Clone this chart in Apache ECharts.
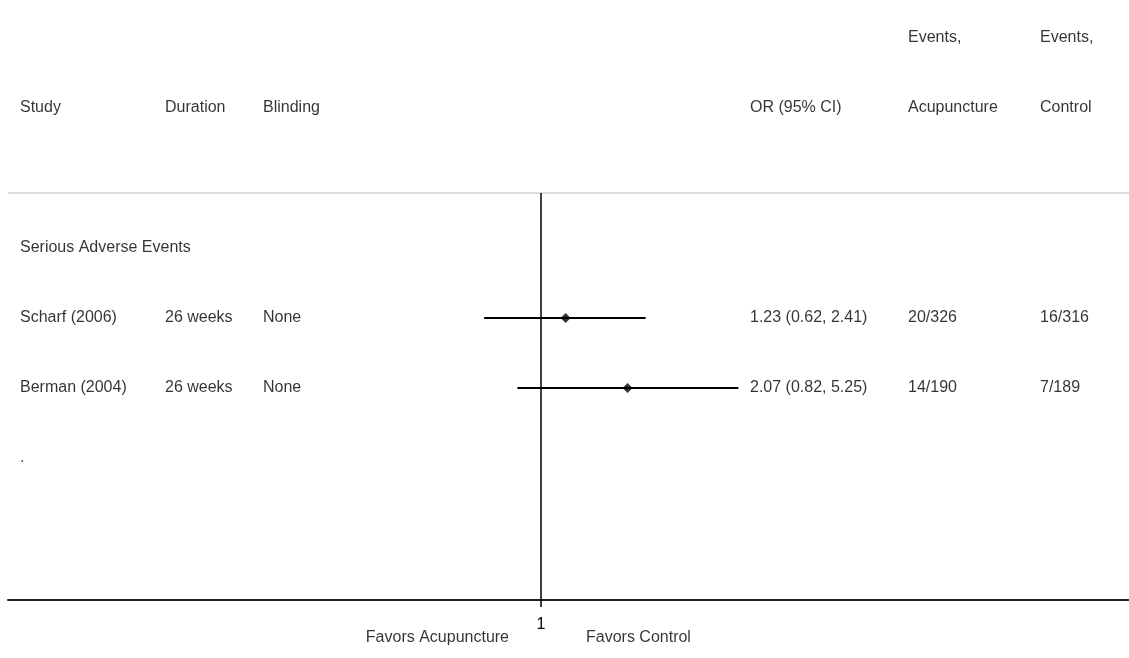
<!DOCTYPE html>
<html><head><meta charset="utf-8">
<script src="https://cdn.jsdelivr.net/npm/echarts@6/dist/echarts.min.js"></script>
<style>html,body{margin:0;padding:0;background:#fff}#c{width:1129px;height:658px}</style>
</head><body><div id="c"></div>
<script>
// ---------- data ----------
const headerTop = ['', '', '', '', 'Events,', 'Events,'];
const headerCols = ['Study', 'Duration', 'Blinding', 'OR (95% CI)', 'Acupuncture', 'Control'];
const subgroupLabel = 'Serious Adverse Events';
const studies = ['Scharf (2006)', 'Berman (2004)'];
const durations = ['26 weeks', '26 weeks'];
const blinding = ['None', 'None'];
const orValues = [1.23, 2.07];
const ciLower = [0.62, 0.82];
const ciUpper = [2.41, 5.25];
const eventsAcu = ['20/326', '14/190'];
const eventsCtrl = ['16/316', '7/189'];
const trailingLabel = '.';
const refValue = 1;
const tickValues = [1];
const favorsLabels = ['Favors Acupuncture', 'Favors Control'];

// ---------- layout ----------
const W = 1129, H = 658;
const GRID_LEFT = 8, AXIS_Y = 600;
const ROW0_PX = 248, PITCH = 70;
const REF_PX = 541, LOG_UNIT_PX = 119;
const COL_X = [20, 165, 263, 750, 908, 1040];
const FAVORS_X = [509, 586];
const FONT = 'Liberation Sans, Arial, Helvetica, sans-serif';
const FS = 16;

const yMin = -ROW0_PX / PITCH;
const yMax = (AXIS_Y - ROW0_PX) / PITCH;
const SEP_Y = (193 - ROW0_PX) / PITCH;
const ROW_HEADER_TOP = -3, ROW_HEADER = -2, ROW_SUB = 0, ROW_TRAIL = studies.length + 1;
const FAVORS_Y = (638 - ROW0_PX) / PITCH;

const fmt = v => v.toFixed(2);
const textItems = [];
function addText(col, row, text) {
  if (!text) return;
  textItems.push({ value: [COL_X[col], row], name: text });
}
headerTop.forEach((t, c) => addText(c, ROW_HEADER_TOP, t));
headerCols.forEach((t, c) => addText(c, ROW_HEADER, t));
addText(0, ROW_SUB, subgroupLabel);
studies.forEach((s, i) => {
  const r = i + 1;
  addText(0, r, s);
  addText(1, r, durations[i]);
  addText(2, r, blinding[i]);
  addText(3, r, `${fmt(orValues[i])} (${fmt(ciLower[i])}, ${fmt(ciUpper[i])})`);
  addText(4, r, eventsAcu[i]);
  addText(5, r, eventsCtrl[i]);
});
addText(0, ROW_TRAIL, trailingLabel);

const series = [];
// separator line
series.push({
  type: 'line', xAxisIndex: 1, yAxisIndex: 0, silent: true, symbol: 'none',
  data: [[GRID_LEFT, SEP_Y], [W, SEP_Y]],
  lineStyle: { color: '#bdbdbd', width: 1 }
});
// reference line
series.push({
  type: 'line', xAxisIndex: 0, yAxisIndex: 0, silent: true, symbol: 'none',
  data: [[refValue, SEP_Y], [refValue, yMax]],
  lineStyle: { color: '#000', width: 1.5 }
});
// CI lines
studies.forEach((s, i) => {
  series.push({
    type: 'line', xAxisIndex: 0, yAxisIndex: 0, silent: true, symbol: 'none',
    data: [[ciLower[i], i + 1], [ciUpper[i], i + 1]],
    lineStyle: { color: '#000', width: 2 }
  });
});
// point estimates
series.push({
  type: 'scatter', xAxisIndex: 0, yAxisIndex: 0, silent: true,
  symbol: 'diamond', symbolSize: 10, itemStyle: { color: '#000' },
  data: orValues.map((v, i) => [v, i + 1])
});
// texts
series.push({
  type: 'scatter', xAxisIndex: 1, yAxisIndex: 0, silent: true, symbolSize: 0, clip: false,
  data: textItems,
  label: { show: true, position: 'right', distance: 0, fontSize: FS, fontFamily: FONT, color: '#000',
           formatter: p => p.name }
});
series.push({
  type: 'scatter', xAxisIndex: 1, yAxisIndex: 0, silent: true, symbolSize: 0, clip: false,
  data: favorsLabels.map((t, i) => ({
    value: [FAVORS_X[i], FAVORS_Y], name: t,
    label: { position: i === 0 ? 'left' : 'right' }
  })),
  label: { show: true, distance: 0, fontSize: FS, fontFamily: FONT, color: '#000',
           formatter: p => p.name }
});

const chart = echarts.init(document.getElementById('c'), null, { renderer: 'canvas' });
chart.setOption({
  animation: false,
  backgroundColor: '#fff',
  grid: { left: GRID_LEFT, right: 0, top: 0, bottom: H - AXIS_Y, containLabel: false },
  xAxis: [
    {
      type: 'log', logBase: 10,
      min: Math.exp((GRID_LEFT - REF_PX) / LOG_UNIT_PX),
      max: Math.exp((W - REF_PX) / LOG_UNIT_PX),
      position: 'bottom',
      axisLine: { show: true, onZero: false, lineStyle: { color: '#222', width: 2 } },
      axisTick: { show: true, customValues: tickValues, length: 7, lineStyle: { color: '#000', width: 1.5 } },
      axisLabel: { show: true, customValues: tickValues, margin: 17, fontSize: FS, fontFamily: FONT, color: '#000',
                   formatter: v => (Math.abs(v - 1) < 1e-9 ? '1' : String(v)) },
      splitLine: { show: false }
    },
    { type: 'value', min: GRID_LEFT, max: W, show: false }
  ],
  yAxis: [{ type: 'value', inverse: true, min: yMin, max: yMax, show: false }],
  series
});
</script></body></html>
